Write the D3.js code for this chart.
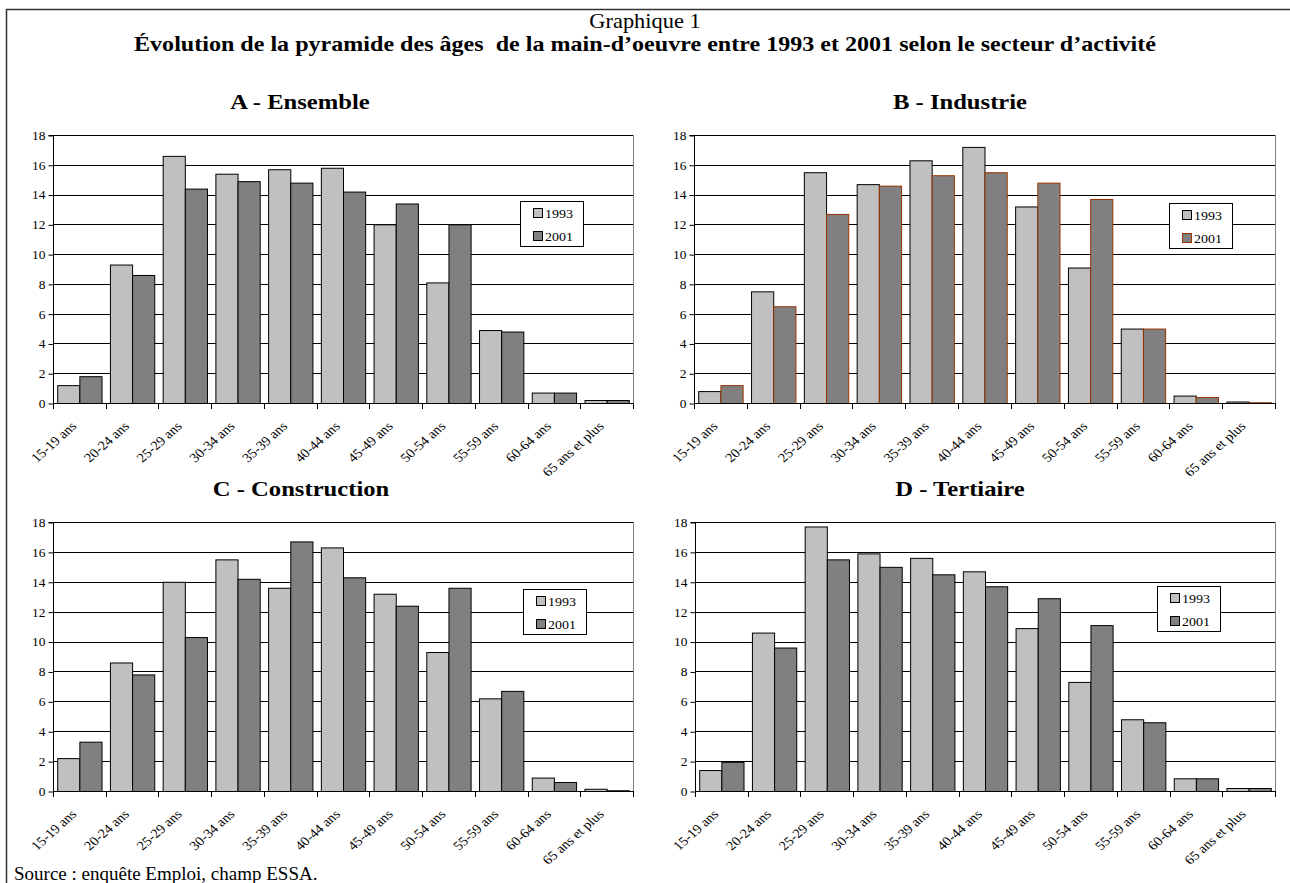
<!DOCTYPE html>
<html>
<head>
<meta charset="utf-8">
<script src="https://cdn.jsdelivr.net/npm/d3@7.9.0/dist/d3.min.js"></script>
<style>
  body { margin: 0; background: #fff; }
  svg { display: block; font-family: "Liberation Serif", "Times New Roman", serif; }
  text { white-space: pre; }
</style>
</head>
<body>
<svg width="1290" height="883"></svg>
<script>
// age groups
const ages = ['15-19 ans', '20-24 ans', '25-29 ans', '30-34 ans', '35-39 ans', '40-44 ans',
  '45-49 ans', '50-54 ans', '55-59 ans', '60-64 ans', '65 ans et plus'];
const years = ['1993', '2001'];
const yTicks = [0, 2, 4, 6, 8, 10, 12, 14, 16, 18];

// values (%)
const ensemble1993 = [1.2, 9.3, 16.6, 15.4, 15.7, 15.8, 12.0, 8.1, 4.9, 0.7, 0.2];
const ensemble2001 = [1.8, 8.6, 14.4, 14.9, 14.8, 14.2, 13.4, 12.0, 4.8, 0.7, 0.2];
const industrie1993 = [0.8, 7.5, 15.5, 14.7, 16.3, 17.2, 13.2, 9.1, 5.0, 0.5, 0.1];
const industrie2001 = [1.2, 6.5, 12.7, 14.6, 15.3, 15.5, 14.8, 13.7, 5.0, 0.4, 0.05];
const construction1993 = [2.2, 8.6, 14.0, 15.5, 13.6, 16.3, 13.2, 9.3, 6.2, 0.9, 0.15];
const construction2001 = [3.3, 7.8, 10.3, 14.2, 16.7, 14.3, 12.4, 13.6, 6.7, 0.6, 0.05];
const tertiaire1993 = [1.4, 10.6, 17.7, 15.9, 15.6, 14.7, 10.9, 7.3, 4.8, 0.85, 0.2];
const tertiaire2001 = [1.95, 9.6, 15.5, 15.0, 14.5, 13.7, 12.9, 11.1, 4.6, 0.85, 0.2];

const svg = d3.select('svg');
const sx = 1.12; // the original text is a bit wider than Times

function label(parent, x, y, size, txt) {
  return parent.append('text')
    .attr('transform', `translate(${x},${y}) scale(${sx},1)`)
    .attr('font-size', size)
    .text(txt);
}

// outer frame (runs off the page on the right and bottom)
svg.append('path')
  .attr('d', 'M6.5,883 L6.5,9.5 L1290,9.5')
  .attr('fill', 'none')
  .attr('stroke', '#333')
  .attr('stroke-width', 1.5);

label(svg, 645, 28, 20, 'Graphique 1').attr('text-anchor', 'middle');
label(svg, 645, 51, 21.5, 'Évolution de la pyramide des âges  de la main-d\u2019oeuvre entre 1993 et 2001 selon le secteur d\u2019activité')
  .attr('text-anchor', 'middle')
  .attr('font-weight', 'bold');
svg.append('text')
  .attr('x', 14).attr('y', 880)
  .attr('font-size', 19)
  .text('Source : enquête Emploi, champ ESSA.');

const panels = [
  { title: 'A - Ensemble', a: ensemble1993, b: ensemble2001, x0: 53, x1: 633, y0: 135, y1: 403, tx: 300, lx: 520, ly: 201, edge: '#000' },
  { title: 'B - Industrie', a: industrie1993, b: industrie2001, x0: 694, x1: 1275, y0: 135, y1: 403, tx: 960, lx: 1169, ly: 203, edge: '#993300' },
  { title: 'C - Construction', a: construction1993, b: construction2001, x0: 53, x1: 633, y0: 522, y1: 791, tx: 301, lx: 523, ly: 589, edge: '#000' },
  { title: 'D - Tertiaire', a: tertiaire1993, b: tertiaire2001, x0: 695, x1: 1275, y0: 522, y1: 791, tx: 960, lx: 1157, ly: 586, edge: '#000' }
];

const colors = { '1993': '#c0c0c0', '2001': '#808080' };

panels.forEach(p => {
  const g = svg.append('g');
  const x = d3.scaleBand().domain(ages).range([p.x0, p.x1]);
  const xs = d3.scaleBand().domain(years).range([0, x.bandwidth()]).paddingInner(0).paddingOuter(0.19);
  const y = d3.scaleLinear().domain([0, 18]).range([p.y1, p.y0]);

  label(g, p.tx, p.y0 - 26, 22, p.title)
    .attr('text-anchor', 'middle')
    .attr('font-weight', 'bold');

  // gridlines
  g.selectAll('line.grid')
    .data(yTicks.slice(1))
    .join('line')
    .attr('class', 'grid')
    .attr('x1', p.x0).attr('x2', p.x1)
    .attr('y1', d => Math.round(y(d)) + 0.5)
    .attr('y2', d => Math.round(y(d)) + 0.5)
    .attr('stroke', '#000')
    .attr('stroke-width', 1);

  // right border of plot area
  g.append('line')
    .attr('x1', p.x1 + 0.5).attr('x2', p.x1 + 0.5)
    .attr('y1', y(18)).attr('y2', y(0))
    .attr('stroke', '#808080');

  // bars
  const rows = ages.map((age, i) => ({ age, vals: [{ yr: '1993', v: p.a[i] }, { yr: '2001', v: p.b[i] }] }));
  g.selectAll('g.cat')
    .data(rows)
    .join('g')
    .attr('transform', d => `translate(${x(d.age)},0)`)
    .selectAll('rect')
    .data(d => d.vals)
    .join('rect')
    .attr('x', d => xs(d.yr) + 0.5)
    .attr('width', xs.bandwidth())
    .attr('y', d => y(d.v) + 0.5)
    .attr('height', d => Math.max(0, y(0) - y(d.v)))
    .attr('fill', d => colors[d.yr])
    .attr('stroke', d => d.yr === '2001' ? p.edge : '#000')
    .attr('stroke-width', 1);

  // y axis
  const yAxis = d3.axisLeft(y).tickValues(yTicks).tickSize(5).tickPadding(6).tickFormat(d3.format('d'));
  const ya = g.append('g').attr('transform', `translate(${p.x0 + 0.5},0.5)`).call(yAxis);
  ya.select('.domain').attr('stroke', '#000').attr('d', `M-5,${y(18)}H0V${y(0)}`);
  ya.selectAll('text')
    .attr('font-size', 12)
    .attr('font-family', 'Liberation Serif')
    .attr('transform', `scale(${sx},1)`)
    .attr('x', -8 / sx);

  // x axis: ticks at category boundaries
  const bounds = ages.map(a => x(a)).concat([p.x1]);
  g.append('line')
    .attr('x1', p.x0).attr('x2', p.x1)
    .attr('y1', Math.round(y(0)) + 0.5).attr('y2', Math.round(y(0)) + 0.5)
    .attr('stroke', '#000').attr('stroke-width', 1.2);
  g.selectAll('line.xt')
    .data(bounds)
    .join('line')
    .attr('class', 'xt')
    .attr('x1', d => Math.round(d) + 0.5).attr('x2', d => Math.round(d) + 0.5)
    .attr('y1', y(0)).attr('y2', y(0) + 6)
    .attr('stroke', '#000');
  g.selectAll('text.xl')
    .data(ages)
    .join('text')
    .attr('class', 'xl')
    .attr('text-anchor', 'end')
    .attr('font-size', 13)
    .attr('transform', d => `translate(${x(d) + x.bandwidth() / 2 - 2},${y(0) + 24}) scale(${sx},1) rotate(-45)`)
    .text(d => d);

  // legend
  const lg = g.append('g').attr('transform', `translate(${p.lx},${p.ly})`);
  lg.append('rect')
    .attr('x', 0.5).attr('y', 0.5)
    .attr('width', 63).attr('height', 45)
    .attr('fill', '#fff').attr('stroke', '#000');
  years.forEach((yr, i) => {
    lg.append('rect')
      .attr('x', 13.5).attr('y', 7.5 + i * 23)
      .attr('width', 9).attr('height', 9)
      .attr('fill', colors[yr])
      .attr('stroke', yr === '2001' ? p.edge : '#000');
    label(lg, 25, 16.5 + i * 23, 12.5, yr);
  });
});
</script>
</body>
</html>
